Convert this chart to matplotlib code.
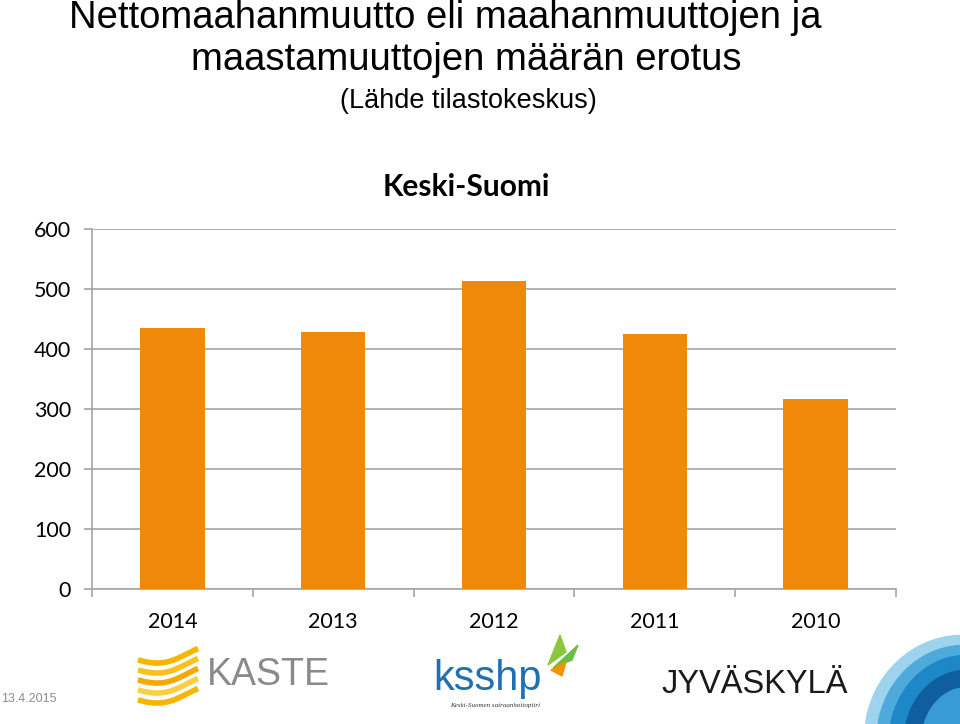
import numpy as np
import matplotlib.pyplot as plt
from matplotlib.patches import Ellipse, Polygon

# data
vuodet = ['2014', '2013', '2012', '2011', '2010']
muutto = [435, 429, 513, 425, 317]

oranssi = '#F0880A'
harmaa = '#A6A6A6'

fig = plt.figure(figsize=(9.6, 7.24), dpi=100)
ax = fig.add_axes([92/960, 1-588.7/724, (896-92)/960, (588.7-229.3)/724])

x = np.arange(len(vuodet))
ax.bar(x, muutto, width=0.4, color=oranssi, zorder=3)
ax.set_xlim(-0.5, len(vuodet)-0.5)
ax.set_ylim(0, 600)
ax.set_yticks(range(0, 601, 100))
ax.yaxis.grid(True, color=harmaa, linewidth=1.2, zorder=0)
ax.set_xticks(x)
ax.set_xticklabels(vuodet)
ax.set_xticks(np.arange(-0.5, len(vuodet)), minor=True)
ax.tick_params(axis='x', which='major', length=0, pad=17, labelsize=15.5)
ax.tick_params(axis='x', which='minor', length=6, color=harmaa, width=1.2)
ax.tick_params(axis='y', length=6, color=harmaa, width=1.2, labelsize=15.5, pad=9)
for l in ax.get_xticklabels() + ax.get_yticklabels():
    l.set_fontfamily('Lato')
for s in ['top', 'right']:
    ax.spines[s].set_visible(False)
for s in ['left', 'bottom']:
    ax.spines[s].set_color(harmaa)
    ax.spines[s].set_linewidth(1.2)

ax.text(0.465, (588.7-196)/359.4, 'Keski-Suomi', transform=ax.transAxes, ha='center', va='baseline',
        fontsize=21.5, fontweight='bold', family='Lato')

# otsikko
fig.text(445/960, 1-28/724, 'Nettomaahanmuutto eli maahanmuuttojen ja', ha='center', va='baseline',
         fontsize=27.5, family='Liberation Sans')
fig.text(466/960, 1-70/724, 'maastamuuttojen määrän erotus', ha='center', va='baseline',
         fontsize=27.5, family='Liberation Sans')
fig.text(468/960, 1-108/724, '(Lähde tilastokeskus)', ha='center', va='baseline',
         fontsize=19.5, family='Liberation Sans')

# alatunniste ja logot
fig.text(1/960, 1-702/724, '13.4.2015', ha='left', va='baseline', fontsize=9,
         color='#8C8C8C', family='Liberation Sans')

lx = fig.add_axes([0, 0, 1, 1], zorder=-1)
lx.set_xlim(0, 960)
lx.set_ylim(724, 0)
lx.axis('off')

# KASTE
t = np.linspace(0, 1, 40)
for i, c in enumerate(['#F7B500', '#F9C21A', '#F5A800', '#FAD040', '#F7B500']):
    y0 = 660 + i * 10
    lx.plot(138 + 60*t, y0 + 6*np.sin(t*np.pi*1.2) - 8*t, color=c, linewidth=4, solid_capstyle='butt')
lx.text(207, 685, 'KASTE', fontsize=27, color='#8A8A8A', family='Liberation Sans', va='baseline')

# ksshp
lx.text(433, 690, 'ksshp', fontsize=30, color='#1F6FB5', family='Liberation Sans', va='baseline')
lx.text(495, 707, 'Keski-Suomen sairaanhoitopiiri', fontsize=5, style='italic', color='#333333',
        family='Liberation Serif', ha='center', va='baseline')
lx.add_patch(Polygon([[548, 665], [560, 635], [566, 652]], color='#8CC63F'))
lx.add_patch(Polygon([[553, 668], [578, 645], [572, 660]], color='#6BBE45'))
lx.add_patch(Polygon([[551, 670], [566, 662], [562, 676]], color='#F39200'))

# Jyväskylä
lx.text(661, 693, 'JYVÄSKYLÄ', fontsize=23.5, color='#1A1A1A', family='Liberation Sans', va='baseline')
for w, h, c in [(190, 200, '#9ED3EE'), (165, 180, '#4DAADB'), (140, 160, '#1D87C8'),
                (110, 130, '#0F5FA0'), (75, 95, '#3A9AD5')]:
    lx.add_patch(Ellipse((960, 735), w, h, angle=15, color=c))

fig.savefig('out.png', dpi=100)
